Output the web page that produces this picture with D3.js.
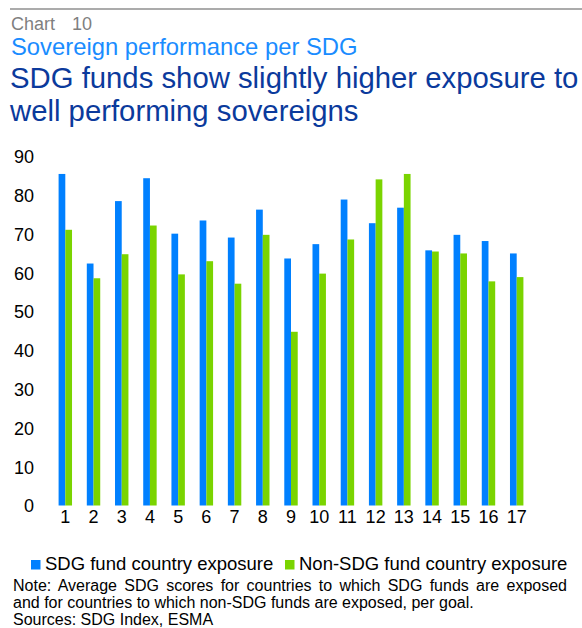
<!DOCTYPE html>
<html><head><meta charset="utf-8">
<script src="https://cdn.jsdelivr.net/npm/d3@7"></script>
<style>
body{margin:0;background:#fff;}
svg{display:block;font-family:"Liberation Sans",Arial,sans-serif;}
</style></head>
<body>
<svg id="c" width="582" height="628"></svg>
<script>
const categories = ["1","2","3","4","5","6","7","8","9","10","11","12","13","14","15","16","17"];
const sdgValues = [85.5,62.4,78.5,84.4,70.1,73.5,69.1,76.3,63.7,67.4,78.9,72.8,76.8,65.8,69.8,68.2,65.0];
const nonSdgValues = [71.1,58.6,64.8,72.2,59.6,63.0,57.2,69.8,44.8,59.8,68.6,84.1,85.5,65.5,65.0,57.8,58.9];
const yTicks = [0,10,20,30,40,50,60,70,80,90];
const seriesNames = ["SDG fund country exposure","Non-SDG fund country exposure"];
const seriesColors = ["#0080ff","#7ad400"];

const svg = d3.select("#c");

// header
svg.append("line").attr("x1",10).attr("x2",582).attr("y1",9).attr("y2",9)
  .attr("stroke","#ababab").attr("stroke-width",2);
svg.append("text").attr("x",11).attr("y",30).attr("font-size",18).attr("fill","#7f7f7f").text("Chart");
svg.append("text").attr("x",72).attr("y",30).attr("font-size",18).attr("fill","#7f7f7f").text("10");
svg.append("text").attr("x",11).attr("y",55).attr("font-size",23.8).attr("fill","#1a8cff").text("Sovereign performance per SDG");
svg.append("text").attr("x",10).attr("y",88).attr("font-size",29.3).attr("fill","#0b3a9c").text("SDG funds show slightly higher exposure to");
svg.append("text").attr("x",10).attr("y",121).attr("font-size",29.3).attr("fill","#0b3a9c").text("well performing sovereigns");

// scales
const x0 = d3.scaleBand().domain(categories).range([51.2,530.8]).paddingInner(0).paddingOuter(0);
const x1 = d3.scaleBand().domain([0,1]).range([0,x0.bandwidth()]).paddingInner(0).paddingOuter(1.1);
const y = d3.scaleLinear().domain([0,90]).range([505.5,156.5]);

// y axis
const yAxis = d3.axisLeft(y).tickValues(yTicks).tickSize(0).tickPadding(0);
const gy = svg.append("g").attr("transform","translate(34,0)").call(yAxis);
gy.select(".domain").remove();
gy.selectAll("text").attr("font-size",18).attr("fill","#000").attr("font-family","Liberation Sans, Arial, sans-serif").attr("dy","0.35em");

// x axis
const xAxis = d3.axisBottom(x0).tickSize(0).tickPadding(0);
const gx = svg.append("g").attr("transform","translate(0,510)").call(xAxis);
gx.select(".domain").remove();
gx.selectAll("text").attr("font-size",18).attr("fill","#000").attr("font-family","Liberation Sans, Arial, sans-serif").attr("dy","0.71em");

// bars
const series = [sdgValues, nonSdgValues];
series.forEach((vals, si) => {
  svg.append("g").selectAll("rect").data(categories).join("rect")
    .attr("x", (c) => x0(c) + x1(si))
    .attr("width", x1.bandwidth())
    .attr("y", (c,i) => y(vals[i]))
    .attr("height", (c,i) => y(0) - y(vals[i]))
    .attr("fill", seriesColors[si]);
});

// legend
const legX = [31, 285];
seriesNames.forEach((n, i) => {
  svg.append("rect").attr("x",legX[i]).attr("y",560).attr("width",9.5).attr("height",9.5).attr("fill",seriesColors[i]);
  svg.append("text").attr("x",legX[i]+14).attr("y",569.5).attr("font-size",18.5).attr("fill","#000").text(n);
});

// notes
function justified(txt, xL, xR, yB, fs){
  const t = svg.append("text").attr("x",xL).attr("y",yB).attr("font-size",fs).attr("fill","#000").text(txt);
  const w = t.node().getComputedTextLength();
  const spaces = (txt.match(/ /g)||[]).length;
  if (spaces>0) t.style("word-spacing", ((xR-xL-w)/spaces)+"px");
}
justified("Note: Average SDG scores for countries to which SDG funds are exposed", 13, 567, 591, 16);
svg.append("text").attr("x",13).attr("y",608).attr("font-size",16).attr("fill","#000").text("and for countries to which non-SDG funds are exposed, per goal.");
svg.append("text").attr("x",13).attr("y",625).attr("font-size",16).attr("fill","#000").text("Sources: SDG Index, ESMA");
</script>
</body></html>
